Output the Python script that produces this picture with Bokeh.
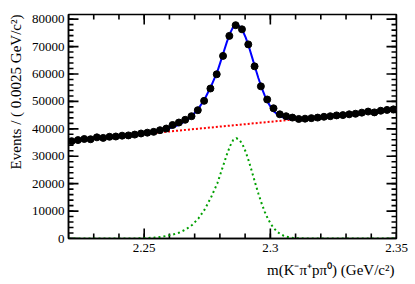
from bokeh.plotting import figure
from bokeh.models import Range1d, LinearAxis, FixedTicker, Title
from bokeh.embed import file_html
from bokeh.resources import INLINE

# ---------------- data ----------------
bin_width = 0.0025
bin_centers = [round(2.22125 + bin_width * k, 5) for k in range(52)]
counts = [35500, 35900, 36300, 36200, 36900, 36700, 37100, 37200, 37500, 37600,
          37900, 38300, 38600, 38900, 39500, 40100, 41400, 42300, 43300, 44600,
          46800, 50200, 54700, 59900, 66600, 73900, 77800, 76300, 70800, 62800,
          55500, 50700, 47500, 45300, 44600, 44100, 43600, 43700, 43900, 44100,
          44400, 44600, 44900, 45000, 45300, 45500, 45900, 46300, 46000, 46600,
          46900, 47100]

fit_x = [2.22, 2.24, 2.2465, 2.249, 2.2515, 2.254, 2.2565, 2.259, 2.2615, 2.264,
         2.2665, 2.269, 2.2715, 2.274, 2.2765, 2.279, 2.28025, 2.2815, 2.28275, 2.284,
         2.28525, 2.2865, 2.28775, 2.289, 2.29025, 2.2915, 2.29275, 2.294, 2.29525, 2.2965,
         2.29775, 2.299, 2.30025, 2.3015, 2.30275, 2.304, 2.30525, 2.3065, 2.309, 2.3115,
         2.314, 2.32, 2.35]
fit_total = [35500, 37274, 37884, 38155, 38466, 38838, 39319, 39900, 40631, 41592,
             42903, 44775, 47376, 50887, 55508, 60849, 64440, 68020, 71611, 74831,
             77142, 77983, 77473, 75864, 73264, 69935, 66165, 62286, 58557, 55147,
             52188, 49738, 47799, 46329, 45270, 44541, 44061, 43772, 43593, 43664,
             43835, 44346, 47000]
bkg_x = [2.22, 2.25, 2.28, 2.31, 2.35]
bkg_y = [35500, 38150, 40810, 43460, 47000]
sig_y = [0, 5, 40, 90, 180, 330, 590, 950, 1460, 2200,
         3290, 4940, 7320, 10610, 15010, 20130, 23610, 27080, 30560, 33670,
         35870, 36600, 35980, 34260, 31550, 28110, 24230, 20240, 16400, 12880,
         9810, 7250, 5200, 3620, 2450, 1610, 1020, 620, 220, 70,
         20, 0, 0]

x_lo, x_hi = 2.22, 2.35
y_lo, y_hi = 0, 81700
x_major = [2.25, 2.3, 2.35]
x_major_labels = {2.25: "2.25", 2.3: "2.3", 2.35: "2.35"}
x_minor = [2.22, 2.23, 2.24, 2.25, 2.26, 2.27, 2.28, 2.29, 2.3, 2.31, 2.32, 2.33, 2.34, 2.35]
y_major = [0, 10000, 20000, 30000, 40000, 50000, 60000, 70000, 80000]
y_minor = list(range(0, 82000, 2000))

x_title = "m(K\u207b\u03c0\u207ap\u03c0\u2070) (GeV/c\u00b2)"
y_title = "Events / ( 0.0025 GeV/c\u00b2)"

FONT = "Liberation Serif"

W, H = 415, 284
BL, BR, BT, BB = 58, 19, 14, 46
MAJ, MIN = 10, 5  # inward tick lengths in px

# ---------------- figure ----------------
p = figure(width=W, height=H, output_backend="svg", toolbar_location=None,
           x_range=Range1d(x_lo, x_hi), y_range=Range1d(y_lo, y_hi),
           x_axis_type=None, y_axis_type=None,
           min_border_left=BL, min_border_right=BR, min_border_top=BT, min_border_bottom=BB,
           background_fill_color="white", border_fill_color="white",
           outline_line_color="black", outline_line_width=1.5)

axis_style = dict(axis_line_color="black", axis_line_width=1.5,
                  major_tick_in=0, major_tick_out=0, minor_tick_in=0, minor_tick_out=0,
                  major_label_text_font=FONT, major_label_text_font_size="13px",
                  major_label_text_color="black")

xb = LinearAxis(ticker=FixedTicker(ticks=x_major, minor_ticks=x_minor),
                major_label_overrides=x_major_labels, major_label_standoff=5, **axis_style)
p.add_layout(xb, "below")

yl = LinearAxis(ticker=FixedTicker(ticks=y_major, minor_ticks=y_minor),
                major_label_standoff=4, **axis_style)
p.add_layout(yl, "left")

# ---------------- titles ----------------
p.add_layout(Title(text=x_title, align="right", text_font=FONT, text_font_size="15px",
                   text_font_style="normal", text_color="black", offset=2), "below")
p.add_layout(Title(text=y_title, align="right", text_font=FONT, text_font_size="15px",
                   text_font_style="normal", text_color="black"), "left")

# ---------------- inward ticks on all four sides (rects centred on the frame edge) ----------------
tick_style = dict(fill_color="black", line_color=None, width_units="screen", height_units="screen")
for xs_, ln in ((x_minor, MIN), (x_major, MAJ)):
    n = len(xs_)
    p.rect(x=xs_, y=[y_lo] * n, width=1.6, height=2 * ln, **tick_style)
    p.rect(x=xs_, y=[y_hi] * n, width=1.6, height=2 * ln, **tick_style)
for ys_, ln in ((y_minor, MIN), (y_major, MAJ)):
    n = len(ys_)
    p.rect(x=[x_lo] * n, y=ys_, width=2 * ln, height=1.6, **tick_style)
    p.rect(x=[x_hi] * n, y=ys_, width=2 * ln, height=1.6, **tick_style)

# ---------------- glyphs ----------------
p.line(fit_x, sig_y, line_color="#00a000", line_width=2, line_dash="2 3")
p.line(bkg_x, bkg_y, line_color="#ff0000", line_width=2, line_dash="2 2")
p.line(fit_x, fit_total, line_color="#0000ff", line_width=2)
p.scatter(bin_centers, counts, size=7, marker="circle", fill_color="black", line_color="black")

open("out.html", "w").write(file_html(p, INLINE))
